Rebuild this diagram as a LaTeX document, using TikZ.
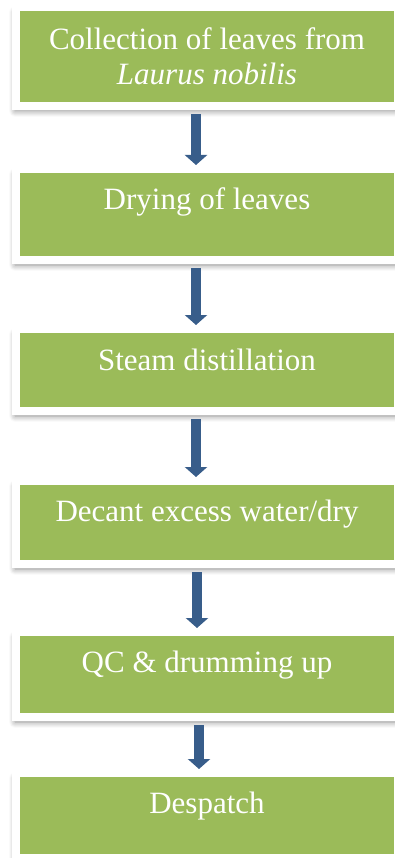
\documentclass[tikz,border=0pt]{standalone}
\usepackage{fontspec}
\setmainfont{Liberation Serif}
\usetikzlibrary{arrows.meta, positioning, shadows.blur}
\definecolor{leafgreen}{HTML}{9BBB59}
\definecolor{flowblue}{HTML}{385D8A}

\begin{document}
\begin{tikzpicture}[
    x=1pt, y=-1pt,
    stagebox/.style={draw=white, line width=8pt, fill=leafgreen, inner sep=0pt,
      minimum width=382pt, text=white, font=\fontsize{31}{35}\selectfont,
      blur shadow={shadow xshift=-1pt, shadow yshift=-5pt, shadow blur radius=6pt, shadow blur steps=10, shadow opacity=45}},
    flowarrow/.style={-{Triangle[width=22pt, length=10pt]}, line width=10pt, color=flowblue, shorten <=4pt},
]
\clip (0,0) rectangle (395,858);

% Process stages
\node[stagebox, minimum height=99pt, align=center] (collect) at (207,56.5) {Collection of leaves from\\\textit{Laurus nobilis}};
\node[stagebox, text height=41pt, text depth=50pt] (dry) at (207,214.5) {Drying of leaves};
\node[stagebox, text height=41pt, text depth=41pt] (steam) at (207,370) {Steam distillation};
\node[stagebox, text height=40pt, text depth=43pt] (decant) at (207,522.5) {Decant excess water/dry};
\node[stagebox, text height=40pt, text depth=45pt] (qc) at (207,674.5) {QC \& drumming up};
\node[stagebox, text height=40pt, text depth=45pt] (despatch) at (207,815.5) {Despatch};

% Arrows
\draw[flowarrow] ([xshift=-11pt]collect.south) -- ([xshift=-11pt]dry.north);
\draw[flowarrow] ([xshift=-11pt]dry.south) -- ([xshift=-11pt]steam.north);
\draw[flowarrow] ([xshift=-11pt]steam.south) -- ([xshift=-11pt]decant.north);
\draw[flowarrow] ([xshift=-10pt]decant.south) -- ([xshift=-10pt]qc.north);
\draw[flowarrow] ([xshift=-8pt]qc.south) -- ([xshift=-8pt]despatch.north);

\end{tikzpicture}
\end{document}
